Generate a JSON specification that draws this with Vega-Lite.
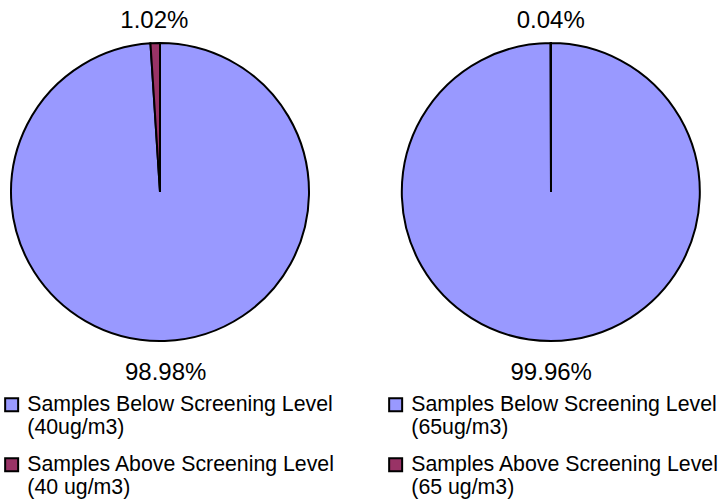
{
  "$schema": "https://vega.github.io/schema/vega-lite/v6.json",
  "padding": 0,
  "background": "white",
  "spacing": 71,
  "bounds": "flush",
  "config": {
    "view": {"stroke": null},
    "font": "Liberation Sans",
    "legend": {
      "padding": 0,
      "symbolType": "square",
      "symbolSize": 169,
      "symbolStrokeColor": "black",
      "symbolStrokeWidth": 2,
      "symbolOpacity": 1,
      "labelFontSize": 21.3,
      "labelColor": "black",
      "labelFont": "Liberation Sans",
      "labelLimit": 0,
      "labelOffset": 5,
      "rowPadding": 14
    }
  },
  "resolve": {"scale": {"color": "independent"}},
  "hconcat": [
    {
      "width": 320,
      "height": 384,
      "data": {"values": [
        {"category": "Samples Below Screening Level|(40ug/m3)", "share": 0.9898},
        {"category": "Samples Above Screening Level|(40 ug/m3)", "share": 0.0102}
      ]},
      "encoding": {
        "theta": {"field": "share", "type": "quantitative", "stack": true},
        "order": {"field": "category", "sort": "descending"},
        "color": {
          "field": "category", "type": "nominal",
          "scale": {"domain": ["Samples Below Screening Level|(40ug/m3)", "Samples Above Screening Level|(40 ug/m3)"], "range": ["#9999FF", "#993366"]},
          "legend": {"orient": "none", "legendX": 1, "legendY": 394, "title": null, "labelExpr": "split(datum.label, '|')"}
        }
      },
      "layer": [
        {"mark": {"type": "arc", "radius": 149, "stroke": "black", "strokeWidth": 2, "opacity": 1}},
        {"mark": {"type": "text", "radius": 176, "dy": 5, "fontSize": 24, "font": "Liberation Sans"},
         "encoding": {"text": {"field": "share", "type": "quantitative", "format": ".2%"}, "color": {"value": "black"}, "detail": {"field": "category"}}}
      ]
    },
    {
      "width": 320,
      "height": 384,
      "data": {"values": [
        {"category": "Samples Below Screening Level|(65ug/m3)", "share": 0.9996},
        {"category": "Samples Above Screening Level|(65 ug/m3)", "share": 0.0004}
      ]},
      "encoding": {
        "theta": {"field": "share", "type": "quantitative", "stack": true},
        "order": {"field": "category", "sort": "descending"},
        "color": {
          "field": "category", "type": "nominal",
          "scale": {"domain": ["Samples Below Screening Level|(65ug/m3)", "Samples Above Screening Level|(65 ug/m3)"], "range": ["#9999FF", "#993366"]},
          "legend": {"orient": "none", "legendX": -6, "legendY": 394, "title": null, "labelExpr": "split(datum.label, '|')"}
        }
      },
      "layer": [
        {"mark": {"type": "arc", "radius": 149, "stroke": "black", "strokeWidth": 2, "opacity": 1}},
        {"mark": {"type": "text", "radius": 176, "dy": 5, "fontSize": 24, "font": "Liberation Sans"},
         "encoding": {"text": {"field": "share", "type": "quantitative", "format": ".2%"}, "color": {"value": "black"}, "detail": {"field": "category"}}}
      ]
    }
  ]
}
